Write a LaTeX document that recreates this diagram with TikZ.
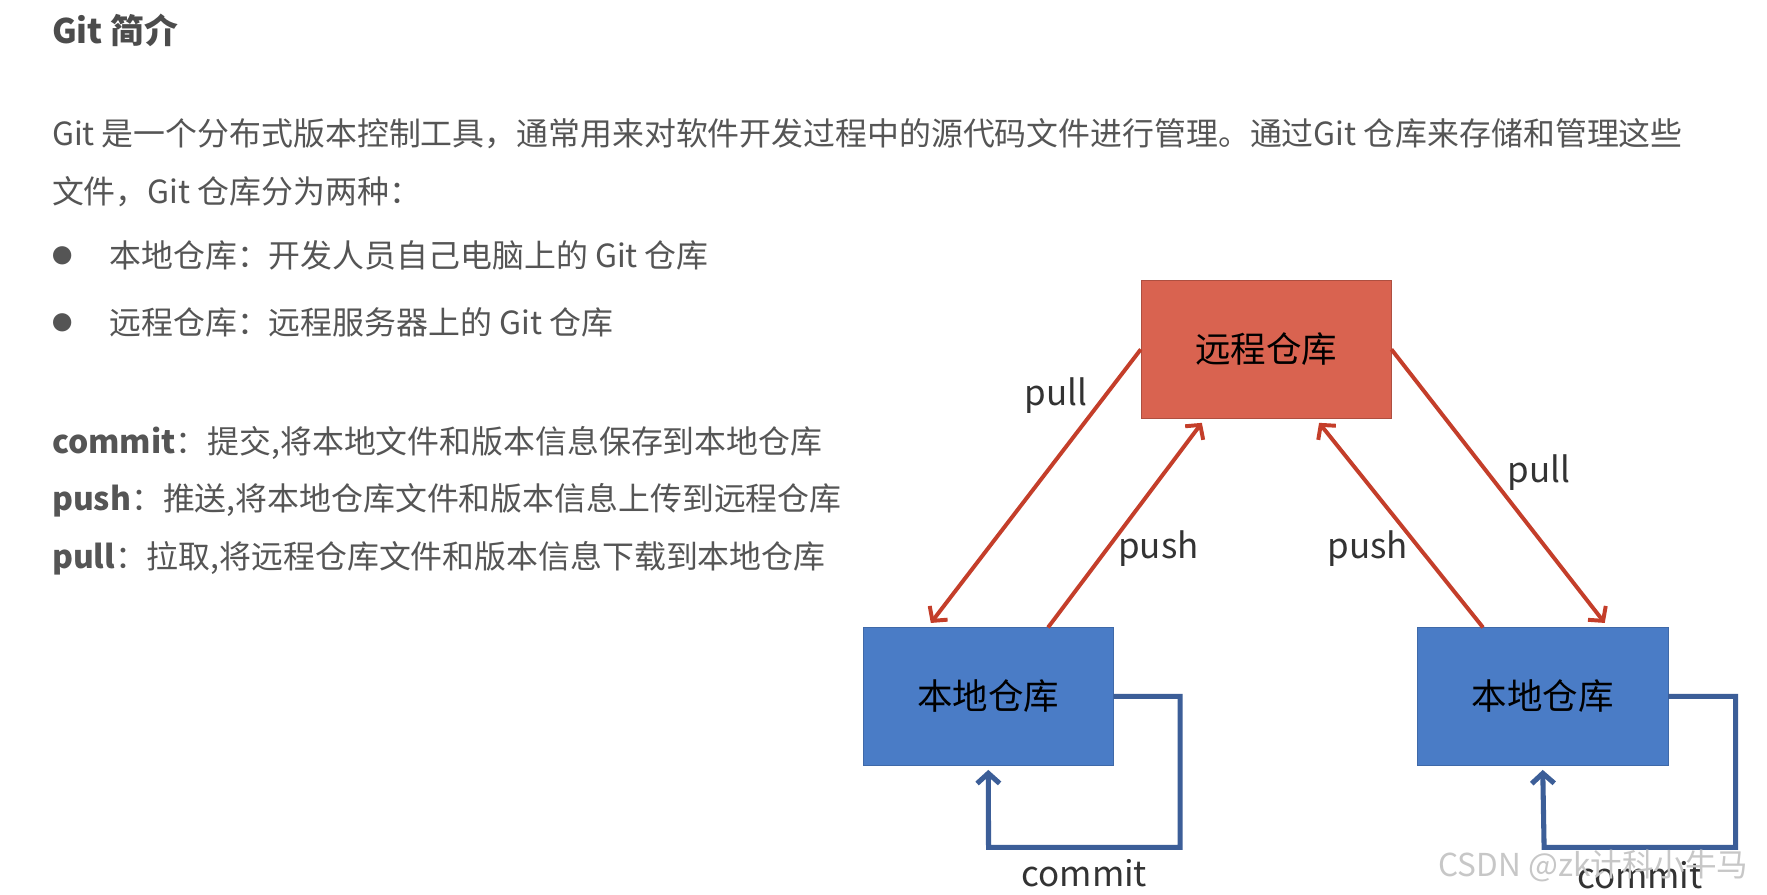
\documentclass[tikz,border=0pt]{standalone}
\usepackage{fontspec}
\setmainfont{Noto Sans CJK SC}
\usetikzlibrary{arrows.meta,positioning}

\definecolor{remotered}{RGB}{217,99,80}
\definecolor{localblue}{RGB}{74,124,198}
\definecolor{syncred}{RGB}{196,62,42}
\definecolor{commitblue}{RGB}{60,94,152}
\definecolor{bodygray}{RGB}{85,85,85}

\begin{document}
\begin{tikzpicture}[x=1pt, y=-1pt, every node/.style = {inner sep=0pt},
    txt/.style = {anchor=west, text=bodygray, font=\fontsize{28.3}{34}\selectfont},
    box/.style = {minimum width=222pt, minimum height=122pt, text=black, font=\fontsize{31.5}{36}\selectfont},
    remotebox/.style = {box, fill=remotered, draw=remotered!80!black},
    localbox/.style = {box, fill=localblue, draw=localblue!85!black},
    sync/.style = {draw=syncred, line width=3.5pt, -{Straight Barb[length=9pt, width=20pt]}},
    loopline/.style = {draw=commitblue, line width=4.5pt, -{Straight Barb[length=9pt, width=20pt]}},
    lbl/.style = {text=black!80, font=\fontsize{31}{36}\selectfont}]
                \fill[white] (0,0) rectangle (1568,794);
                \useasboundingbox (0,0) rectangle (1568,794);
                % text on the left
                \node[txt, text=black!70, font=\bfseries\fontsize{30}{36}\selectfont] (title) at (46,27) {Git 简介};
                \node[txt] (intro1) at (46,119) {Git 是一个分布式版本控制工具，通常用来对软件开发过程中的源代码文件进行管理。通过Git 仓库来存储和管理这些};
                \node[txt] (intro2) at (46,170) {文件，Git 仓库分为两种：};
                \node[txt, font=\fontsize{18}{20}\selectfont] (dot1) at (46,227) {●};
                \node[txt] (item1) at (97,227) {本地仓库：开发人员自己电脑上的 Git 仓库};
                \node[txt, font=\fontsize{18}{20}\selectfont] (dot2) at (46,286) {●};
                \node[txt] (item2) at (97,286) {远程仓库：远程服务器上的 Git 仓库};
                \node[txt] (commit) at (46,393) {\textbf{commit}：提交,将本地文件和版本信息保存到本地仓库};
                \node[txt] (push) at (46,444) {\textbf{push}：推送,将本地仓库文件和版本信息上传到远程仓库};
                \node[txt] (pull) at (46,495) {\textbf{pull}：拉取,将远程仓库文件和版本信息下载到本地仓库};
                % the three repositories
                \node[remotebox] (remote) at (1123.5,310) {远程仓库};
                \node[localbox] (local1) at (877,618) {本地仓库};
                \node[localbox] (local2) at (1369,618) {本地仓库};
                \draw[sync] (remote.west) -- node[lbl, pos=0.17, left=14pt] {pull} ([xshift=-51pt, yshift=4pt]local1.north);
                \draw[sync] ([xshift=53pt]local1.north) -- node[lbl, pos=0.385, right=8pt] {push} ([xshift=-57pt, yshift=-4pt]remote.south);
                \draw[sync] ([xshift=-53pt]local2.north) -- node[lbl, pos=0.385, left=9pt] {push} ([xshift=47pt, yshift=-4pt]remote.south);
                \draw[sync] (remote.east) -- node[lbl, pos=0.45, right=16pt] {pull} ([xshift=55pt, yshift=4pt]local2.north);
                \draw[loopline] (local1.east) -- ++(59,0) -- ++(0,134) -- node[lbl, below=8pt] {commit} ++(-170,0) -- ([yshift=-4pt]local1.south);
                \draw[loopline] (local2.east) -- ++(60,0) -- ++(0,134) -- node[lbl, below=10pt] {commit} ++(-170,0) -- ([yshift=-4pt]local2.south);
                \node[text=black!22, font=\fontsize{28}{34}\selectfont] (mark) at (1414,768) {CSDN @zk计科小牛马};
            \end{tikzpicture}
\end{document}
